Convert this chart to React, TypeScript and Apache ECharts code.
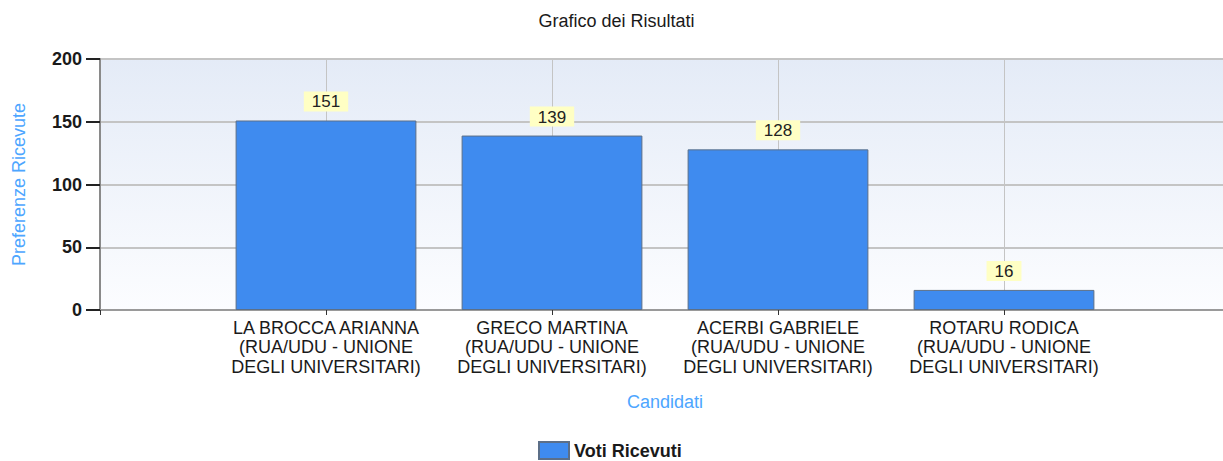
import React, { useEffect, useRef } from "react";
import * as echarts from "echarts";

const categories = [
  "",
  "LA BROCCA ARIANNA\n(RUA/UDU - UNIONE\nDEGLI UNIVERSITARI)",
  "GRECO MARTINA\n(RUA/UDU - UNIONE\nDEGLI UNIVERSITARI)",
  "ACERBI GABRIELE\n(RUA/UDU - UNIONE\nDEGLI UNIVERSITARI)",
  "ROTARU RODICA\n(RUA/UDU - UNIONE\nDEGLI UNIVERSITARI)",
  "",
];
const votes = [null, 151, 139, 128, 16, null];
const seriesName = "Voti Ricevuti";
const titleText = "Grafico dei Risultati";
const yAxisName = "Preferenze Ricevute";
const xAxisName = "Candidati";

const FONT = "'Liberation Sans', Arial, sans-serif";

export default function App() {
  const ref = useRef<HTMLDivElement>(null);
  useEffect(() => {
    const chart = echarts.init(ref.current!, undefined, { renderer: "svg" });
    chart.setOption({
      animation: false,
      backgroundColor: "#ffffff",
      title: {
        text: titleText,
        left: "center",
        top: 7,
        textStyle: { fontFamily: FONT, fontSize: 18, fontWeight: "normal", color: "#1a1a1a" },
      },
      legend: {
        data: [seriesName],
        left: 538,
        top: 441,
        padding: 0,
        icon: "rect",
        itemWidth: 30,
        itemHeight: 17,
        itemGap: 6,
        textStyle: { fontFamily: FONT, fontSize: 18, fontWeight: "bold", color: "#1a1a1a" },
      },
      grid: {
        left: 100,
        right: 0,
        top: 59,
        bottom: 151,
        show: true,
        borderColor: "#b4b4b4",
        borderWidth: 2,
        backgroundColor: new echarts.graphic.LinearGradient(0, 0, 0, 1, [
          { offset: 0, color: "#e4ebf7" },
          { offset: 1, color: "#fcfdff" },
        ]),
      },
      xAxis: {
        type: "category",
        data: categories,
        boundaryGap: false,
        name: xAxisName,
        nameLocation: "middle",
        nameGap: 83,
        nameTextStyle: { fontFamily: FONT, fontSize: 18, color: "#4da6ff" },
        axisLine: { lineStyle: { color: "#9a9a9a", width: 2 } },
        axisTick: { show: true, length: 5, interval: 0, lineStyle: { color: "#333" } },
        axisLabel: {
          interval: 0,
          margin: 8,
          fontFamily: FONT,
          fontSize: 18,
          lineHeight: 19.5,
          color: "#1a1a1a",
        },
        splitLine: { show: true, interval: 0, lineStyle: { color: "#c4c4c4", width: 1 } },
      },
      yAxis: {
        type: "value",
        min: 0,
        max: 200,
        interval: 50,
        name: yAxisName,
        nameLocation: "middle",
        nameGap: 72,
        nameTextStyle: { fontFamily: FONT, fontSize: 18, color: "#4da6ff" },
        axisLine: { show: true, lineStyle: { color: "#8a8a8a", width: 2 } },
        axisTick: { show: true, length: 14, lineStyle: { color: "#222", width: 2 } },
        axisLabel: {
          margin: 18,
          fontFamily: FONT,
          fontSize: 18,
          fontWeight: "bold",
          color: "#1a1a1a",
        },
        splitLine: { show: true, lineStyle: { color: "#c4c4c4", width: 2 } },
      },
      series: [
        {
          name: seriesName,
          type: "bar",
          data: votes,
          barWidth: "80%",
          itemStyle: { color: "#3f8bef", borderColor: "#5c6f88", borderWidth: 1 },
          label: {
            show: true,
            position: "top",
            distance: 9,
            fontFamily: FONT,
            fontSize: 17,
            color: "#222",
            backgroundColor: "#ffffc4",
            padding: [2, 8, 1, 8],
          },
        },
      ],
    });
    return () => chart.dispose();
  }, []);
  return (
    <div
      style={{
        position: "absolute",
        left: 0,
        top: 0,
        width: 1223,
        height: 461,
        overflow: "hidden",
      }}
    >
      <div ref={ref} style={{ width: 1233, height: 461 }} />
    </div>
  );
}
